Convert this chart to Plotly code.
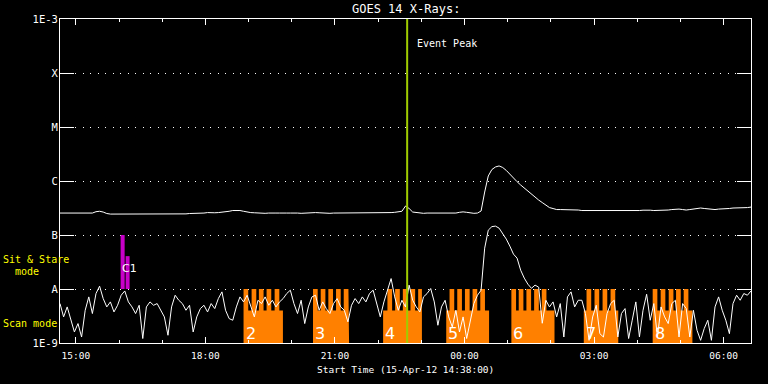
import pandas as pd
import plotly.graph_objects as go

# ---------------- data ----------------
start_time = "2012-04-15 14:38:00"
end_time = "2012-04-16 06:38:00"
sample_minutes = 5

# GOES 14 long channel (1-8 A), units of 1e-7 W/m^2, 5-min samples from start
long_1e7 = [
    2.55, 2.55, 2.52, 2.55, 2.50, 2.52, 2.55, 2.52, 2.50, 2.55,
    2.70, 2.75, 2.66,
    2.50, 2.44, 2.44, 2.41, 2.39, 2.39, 2.41, 2.39, 2.41, 2.39,
    2.39, 2.41, 2.44, 2.41, 2.39, 2.41, 2.44, 2.41, 2.44, 2.44,
    2.46, 2.44, 2.46, 2.50, 2.50, 2.52,
    2.55, 2.55, 2.60, 2.55, 2.58, 2.60, 2.63, 2.66,
    2.75, 2.84, 2.88, 2.84, 2.75, 2.66,
    2.60, 2.58, 2.55, 2.55, 2.52, 2.55, 2.58, 2.55, 2.55, 2.52,
    2.55, 2.55, 2.58, 2.55, 2.52, 2.55, 2.55, 2.58, 2.60, 2.58,
    2.55, 2.55, 2.52, 2.55, 2.55, 2.58, 2.55, 2.52, 2.55, 2.55,
    2.55, 2.58, 2.60, 2.58, 2.55, 2.55, 2.58, 2.55, 2.55, 2.60,
    2.63, 2.66, 2.75,
    3.44, 3.10,
    2.66, 2.60, 2.55, 2.52, 2.55, 2.55, 2.52, 2.55, 2.55, 2.58, 2.60, 2.58, 2.55,
    2.63, 2.68, 2.63,
    2.55, 2.52, 2.55,
    2.78, 6.25, 12.4, 16.3, 18.2, 19.0, 17.8, 15.7, 13.2, 11.4,
    9.71, 8.43, 7.41, 6.52, 5.62, 4.94, 4.44, 3.99, 3.59, 3.22, 3.09,
    2.96, 2.96, 2.96, 2.90, 2.96, 2.96, 2.90,
    2.84, 2.84, 2.80, 2.84, 2.84, 2.80, 2.78, 2.80, 2.84, 2.84,
    2.80, 2.80, 2.84, 2.84, 2.80, 2.84, 2.84, 2.88, 2.90, 2.88, 2.84,
    2.84, 2.84, 2.88, 2.90, 2.96, 3.02, 3.02, 2.96, 2.90, 2.96,
    3.02, 3.10, 3.16, 3.10, 3.02, 2.96, 2.96, 3.02, 3.02, 3.10,
    3.10, 3.16, 3.16, 3.22, 3.16, 3.22, 3.29,
]

# GOES 14 short channel (0.5-4 A), units of 1e-9 W/m^2
short_1e9 = [
    5.37, 3.04, 4.66, 2.64, 1.60, 2.29, 1.29, 4.04, 7.14, 3.51,
    8.24, 11.3, 6.65, 4.66, 5.77, 3.76, 5.0, 7.67, 9.2, 5.77,
    4.66, 3.51, 5.0, 1.21, 4.66, 5.77, 5.0, 5.37, 4.04, 3.04,
    1.39, 4.66, 7.67, 6.19, 5.37, 4.04, 5.0, 1.60, 3.04, 4.34,
    5.0, 3.76, 5.37, 4.34, 6.65, 8.85, 4.04, 2.83, 2.64, 4.66,
    7.14, 5.77, 7.67, 4.66, 3.04, 6.19, 5.37, 7.14, 5.0, 6.19,
    4.66, 5.77, 6.65, 8.24, 9.5, 5.37, 3.51, 6.19, 2.29, 4.66,
    7.14, 7.67, 4.04, 5.77, 4.34, 3.51, 5.37, 6.65, 4.66, 4.04,
    2.46, 5.0, 6.65, 5.37, 7.14, 5.77, 8.24, 9.5, 5.37, 3.04,
    5.77, 9.5, 15.6, 7.14, 4.04, 6.19, 4.66, 11.8, 6.19, 4.66,
    3.76, 7.14, 8.24, 10.2, 5.77, 2.13, 4.66, 6.19, 3.04, 1.98,
    4.04, 1.60, 3.04, 1.21, 2.64, 5.37, 7.67, 9.5, 57.1, 123,
    143, 146, 134, 108, 84, 62.2, 44.2, 37.3, 22.3, 15.9,
    12.3, 10.3, 11.8, 10.8, 2.32, 6.19, 4.66, 5.77, 3.04, 5.37,
    1.29, 7.14, 8.85, 4.66, 6.19, 6.19, 3.51, 1.12, 3.04, 5.0,
    1.49, 1.29, 3.51, 5.37, 6.19, 1.29, 3.51, 4.34, 1.21, 2.64,
    5.77, 1.29, 4.04, 8.0, 2.64, 5.37, 1.29, 4.66, 3.04, 2.29,
    5.37, 6.19, 1.29, 5.37, 4.34, 1.29, 4.04, 1.72, 1.12, 1.85,
    2.64, 1.12, 4.66, 7.14, 4.04, 2.64, 1.49, 5.37, 7.67, 6.19,
    8.24, 7.67, 9.2,
]

# GOES class levels
y_tickvals = [1e-9, 1e-8, 1e-7, 1e-6, 1e-5, 1e-4, 1e-3]
y_ticktext = ["1E-9", "A", "B", "C", "M", "X", "1E-3"]

event_peak = "2012-04-15 22:40:18"

# Scan-mode observation blocks: label, start, end, sub-exposure starts
scan_levels = (1e-9, 4.0e-9, 1e-8)   # floor, base level, tooth level
tooth_minutes = 6.5
scan_blocks = [
    ("2", "2012-04-15 18:53:00", "2012-04-15 19:47:42",
     ["2012-04-15 18:53:00", "2012-04-15 19:04:12", "2012-04-15 19:14:18",
      "2012-04-15 19:25:00", "2012-04-15 19:36:12"]),
    ("3", "2012-04-15 20:29:30", "2012-04-15 21:19:36",
     ["2012-04-15 20:29:30", "2012-04-15 20:40:12", "2012-04-15 20:50:48",
      "2012-04-15 21:01:30", "2012-04-15 21:12:12"]),
    ("4", "2012-04-15 22:06:54", "2012-04-15 23:00:48",
     ["2012-04-15 22:12:54", "2012-04-15 22:23:36", "2012-04-15 22:34:18",
      "2012-04-15 22:44:54", "2012-04-15 22:55:36"]),
    ("5", "2012-04-15 23:34:36", "2012-04-16 00:34:06",
     ["2012-04-15 23:39:12", "2012-04-15 23:49:54", "2012-04-16 00:00:36",
      "2012-04-16 00:11:12", "2012-04-16 00:21:54"]),
    ("6", "2012-04-16 01:05:06", "2012-04-16 02:05:00",
     ["2012-04-16 01:05:06", "2012-04-16 01:15:18", "2012-04-16 01:26:00",
      "2012-04-16 01:36:42", "2012-04-16 01:47:18"]),
    ("7", "2012-04-16 02:45:42", "2012-04-16 03:33:36",
     ["2012-04-16 02:49:30", "2012-04-16 03:00:36", "2012-04-16 03:11:48",
      "2012-04-16 03:22:54"]),
    ("8", "2012-04-16 04:21:24", "2012-04-16 05:16:36",
     ["2012-04-16 04:21:24", "2012-04-16 04:32:30", "2012-04-16 04:43:42",
      "2012-04-16 04:53:54", "2012-04-16 05:04:30"]),
]

# Sit & Stare block 1: (start, end, top)
sit_base = 1e-8
sit_bars = [
    ("2012-04-15 16:02:12", "2012-04-15 16:07:48", 1.0e-7),
    ("2012-04-15 16:09:12", "2012-04-15 16:14:42", 4.06e-8),
]
sit_label = "C1"
sit_label_time = "2012-04-15 16:02:00"

# ---------------- build ----------------
times = pd.date_range(start_time, periods=len(short_1e9), freq=f"{sample_minutes}min")
long_flux = [v * 1e-7 for v in long_1e7]
short_flux = [v * 1e-9 for v in short_1e9]

ORANGE = "#ff8000"
MAGENTA = "#c800c8"
GREEN = "#a0cc00"
FONT = "DejaVu Sans Mono"

fig = go.Figure()

# scan-mode comb polygons
for label, b0, b1, teeth in scan_blocks:
    floor, low, high = scan_levels
    t0, t1 = pd.Timestamp(b0), pd.Timestamp(b1)
    xs, ys = [t0, t0], [floor, low]
    for ts in teeth:
        a = pd.Timestamp(ts)
        b = min(a + pd.Timedelta(minutes=tooth_minutes), t1)
        xs += [a, a, b, b]
        ys += [low, high, high, low]
    xs += [t1, t1, t0]
    ys += [low, floor, floor]
    fig.add_trace(go.Scatter(x=xs, y=ys, fill="toself", fillcolor=ORANGE,
                             mode="lines", line=dict(width=0, color=ORANGE),
                             hoverinfo="skip", showlegend=False))

# sit & stare bars
for s0, s1, top in sit_bars:
    a, b = pd.Timestamp(s0), pd.Timestamp(s1)
    fig.add_trace(go.Scatter(x=[a, a, b, b, a], y=[sit_base, top, top, sit_base, sit_base],
                             fill="toself", fillcolor=MAGENTA, mode="lines",
                             line=dict(width=0, color=MAGENTA),
                             hoverinfo="skip", showlegend=False))

# flux curves
fig.add_trace(go.Scatter(x=times, y=long_flux, mode="lines",
                         line=dict(color="white", width=1), showlegend=False))
fig.add_trace(go.Scatter(x=times, y=short_flux, mode="lines",
                         line=dict(color="white", width=1), showlegend=False))

# event peak line
fig.add_shape(type="line", xref="x", yref="paper", x0=event_peak, x1=event_peak,
              y0=0, y1=1, line=dict(color=GREEN, width=2), layer="above")
fig.add_annotation(x=event_peak, xref="x", y=0.925, yref="paper", text="Event Peak",
                   showarrow=False, xanchor="left", yanchor="middle", xshift=8,
                   font=dict(family=FONT, size=10, color="white"))

# block labels
for label, b0, b1, teeth in scan_blocks:
    fig.add_annotation(x=b0, xref="x", y=0.03, yref="paper", text=label,
                       showarrow=False, xanchor="left", yanchor="middle", xshift=0,
                       font=dict(family="DejaVu Sans", size=16, color="white"))
fig.add_annotation(x=sit_label_time, xref="x", y=0.23, yref="paper", text=sit_label,
                   showarrow=False, xanchor="left", yanchor="middle",
                   font=dict(family="DejaVu Sans", size=11, color="white"))

# left yellow labels
for txt, yp in [("Sit & Stare", 0.259), ("  mode", 0.222), ("Scan mode", 0.060)]:
    fig.add_annotation(x=0, xref="paper", xshift=-59, y=yp, yref="paper", text=txt,
                       showarrow=False, xanchor="left", yanchor="middle",
                       font=dict(family=FONT, size=10, color="#ffff00"))

# title and x title
fig.add_annotation(x=0.5, xref="paper", y=1.031, yref="paper", text="GOES 14 X-Rays:",
                   showarrow=False, xanchor="center", yanchor="middle",
                   font=dict(family=FONT, size=12, color="white"))
fig.add_annotation(x=0.5, xref="paper", y=-0.081, yref="paper",
                   text="Start Time (15-Apr-12 14:38:00)",
                   showarrow=False, xanchor="center", yanchor="middle",
                   font=dict(family=FONT, size=9.5, color="white"))

fig.update_layout(
    width=768, height=384,
    margin=dict(l=60, r=17, t=19, b=41),
    paper_bgcolor="black", plot_bgcolor="black",
    showlegend=False,
    font=dict(family=FONT, color="white", size=10),
)
fig.update_xaxes(
    type="date", range=[start_time, end_time],
    tick0="2012-04-15 15:00:00", dtick=3 * 3600 * 1000, tickformat="%H:%M",
    ticks="inside", ticklen=6, tickcolor="white", tickwidth=1,
    minor=dict(dtick=3600 * 1000, ticks="inside", ticklen=3, tickcolor="white", showgrid=False),
    showline=True, linecolor="white", linewidth=1, mirror="allticks",
    showgrid=False, zeroline=False,
    tickfont=dict(family=FONT, size=9.5, color="white"),
    ticklabelstandoff=4,
)
fig.update_yaxes(
    type="log", range=[-9, -3],
    tickvals=y_tickvals, ticktext=y_ticktext,
    ticks="inside", ticklen=14, tickcolor="white", tickwidth=1,
    showline=True, linecolor="white", linewidth=1, mirror="allticks",
    showgrid=True, gridcolor="white", gridwidth=1, griddash="1px,6.5px",
    zeroline=False,
    tickfont=dict(family=FONT, size=10.5, color="white"),
    ticklabelstandoff=-1,
)

fig.write_html(
    "out.html",
    config={"displayModeBar": False},
    post_script="document.body.style.margin='0';document.body.style.overflow='hidden';",
)
